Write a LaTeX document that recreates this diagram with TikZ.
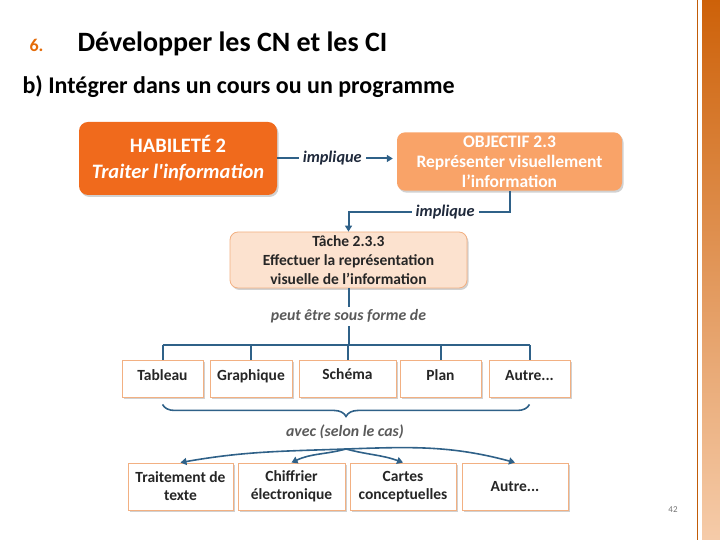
\documentclass[tikz,border=0pt]{standalone}
\usepackage{fontspec}
\setmainfont{Carlito}
\usetikzlibrary{arrows.meta,positioning,shadows,calc,decorations.pathreplacing}
\definecolor{habfill}{RGB}{240,106,28}
\definecolor{objfill}{RGB}{249,163,104}
\definecolor{tachefill}{RGB}{252,226,207}
\definecolor{boxline}{RGB}{242,176,130}
\definecolor{linkblue}{RGB}{47,97,136}
\definecolor{navytext}{RGB}{32,42,60}
\definecolor{graytext}{RGB}{90,90,90}
\definecolor{numorange}{RGB}{228,108,10}
\tikzset{
    softshadow/.style={
        drop shadow={shadow xshift=1.5pt, shadow yshift=-2pt, opacity=0.3, fill=black!60}
    },
    % grandes boites du haut
    habbox/.style={
        rounded corners=9pt, fill=habfill, draw=none, softshadow,
        text=white, font=\fontsize{20.5}{26}\selectfont\bfseries, align=center
    },
    objbox/.style={
        rounded corners=8pt, fill=objfill, draw=none, softshadow,
        text=white, font=\fontsize{17.5}{20}\selectfont\bfseries, align=center
    },
    tachebox/.style={
        rounded corners=8pt, fill=tachefill, draw=boxline, line width=0.8pt, softshadow,
        text=black!85, font=\fontsize{15.5}{19}\selectfont\bfseries, align=center
    },
    % boites des deux rangees
    itembox/.style={
        fill=white, draw=boxline, line width=0.9pt, softshadow,
        text=black!85, font=\fontsize{15.5}{18}\selectfont\bfseries, align=center
    },
    rowone/.style={itembox, minimum height=37pt, text height=0.7em, text depth=0.2em},
    blueline/.style={line width=2pt, linkblue},
    bluearrow/.style={
        line width=2pt, linkblue,
        -{Triangle[length=6pt, width=7pt]}
    },
    curvearrow/.style={
        line width=1.6pt, linkblue,
        -{Triangle[length=6pt, width=7pt]}
    },
    linklabel/.style={fill=white, inner sep=4pt, font=\fontsize{16.3}{18}\selectfont\bfseries\itshape}
}

\begin{document}
\begin{tikzpicture}[x=1pt, y=1pt]
    \useasboundingbox (0,0) rectangle (720,540);
    % bande decorative a droite
    \shade[top color=numorange!90!black, bottom color=numorange!35] (702,0) rectangle (720,540);
    \fill[numorange!85!black] (696.5,0) rectangle (698,540);
    % titres
    \node[anchor=base west, text=numorange, font=\fontsize{18}{21}\selectfont\bfseries] (num) at (26,488) {6.};
    \node[anchor=base west, font=\fontsize{28}{32}\selectfont\bfseries] (titre) at (74,488) {Développer les CN et les CI};
    \node[anchor=base west, font=\fontsize{24}{28}\selectfont\bfseries] (soustitre) at (19,446) {b) Intégrer dans un cours ou un programme};
    % boites principales
    \node[habbox, minimum width=198pt, minimum height=73pt] (hab) at (178,381.5)
        {HABILETÉ 2\\\textit{Traiter l\textquotesingle information}};
    \node[objbox, minimum width=225pt, minimum height=54pt] (obj) at (509.5,378.5)
        {OBJECTIF 2.3\\Représenter visuellement\\l’information};
    \node[tachebox, minimum width=237pt, minimum height=56pt] (tache) at (348.5,280)
        {Tâche 2.3.3\\Effectuer la représentation\\visuelle de l’information};
    % premiere rangee
    \node[rowone, minimum width=81pt] (tab) at (162.5,161.5) {Tableau};
    \node[rowone, minimum width=82pt] (gra) at (251,161.5) {Graphique};
    \node[rowone, minimum width=97pt, text depth=0.45em] (sch) at (347.5,161.5) {Schéma};
    \node[rowone, minimum width=81pt] (pla) at (440.5,161.5) {Plan};
    \node[rowone, minimum width=81pt] (aut1) at (529.5,161.5) {Autre...};
    % deuxieme rangee
    \node[itembox, minimum width=105pt, minimum height=47pt] (trt) at (180.5,53.5) {Traitement de\\texte};
    \node[itembox, minimum width=107pt, minimum height=47pt] (chi) at (291.5,53.5) {Chiffrier\\électronique};
    \node[itembox, minimum width=106pt, minimum height=47pt] (car) at (403,53.5) {Cartes\\conceptuelles};
    \node[itembox, minimum width=106pt, minimum height=47pt] (aut2) at (515,53.5) {Autre...};
    % liens
    \draw[bluearrow, shorten >=4pt] (hab.east) -- node[linklabel, text=navytext, pos=0.46] {implique} (hab.east -| obj.west);
    \draw[bluearrow] (obj.south) -- ++(0,-21) -| node[linklabel, text=navytext, pos=0.2] {implique} (tache.north);
    \coordinate (bar) at (347.5,195);
    \draw[blueline] (tache.south) -- node[linklabel, text=graytext, font=\fontsize{15.8}{18}\selectfont\bfseries\itshape, inner sep=3pt] {peut être sous forme de} (tache.south |- bar);
    \draw[blueline] (tab.north |- bar) -- (aut1.north |- bar);
    \foreach \b in {tab,gra,sch,pla,aut1}
        \draw[blueline] (\b.north |- bar) -- (\b.north);
    \draw[blueline, line width=1.6pt, decorate, decoration={brace, mirror, amplitude=12pt}]
        ($(tab.south)+(0,-7)$) -- ($(aut1.south)+(0,-7)$);
    \node[text=graytext, font=\fontsize{15.8}{18}\selectfont\bfseries\itshape] (avec) at (345,108) {avec (selon le cas)};
    \coordinate (split) at (346,91);
    \draw[curvearrow] (split) to[out=182, in=10] (trt.north);
    \draw[curvearrow] (split) to[out=195, in=25] (chi.north);
    \draw[curvearrow] (split) to[out=-15, in=160] (car.north);
    \draw[curvearrow] (split) to[out=2, in=165] (aut2.north);
    \node[text=black!55, font=\fontsize{9}{10}\selectfont] (page) at (673,30) {42};
\end{tikzpicture}
\end{document}
